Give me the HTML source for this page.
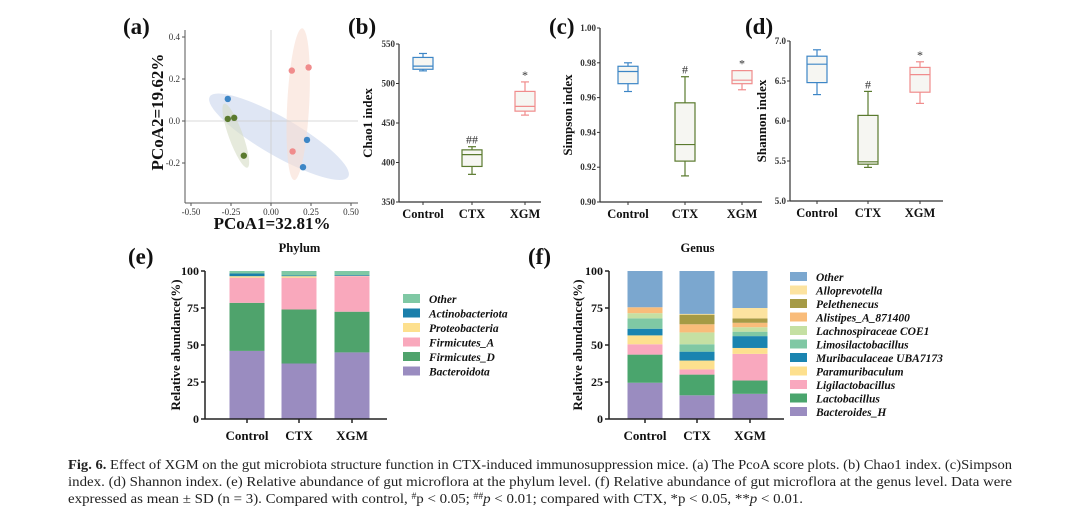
<!DOCTYPE html>
<html><head><meta charset="utf-8"><style>
html,body{margin:0;padding:0;background:#fff;width:1080px;height:526px;overflow:hidden}
svg{display:block;font-family:"Liberation Serif",serif}
.tk{font-size:9px;fill:#333}
.pl{font-size:23px;font-weight:bold;fill:#111}
.ttl{font-weight:bold;fill:#111}
.lg{font-size:11.5px;font-weight:bold;font-style:italic;fill:#111}
.cap{font-size:14px;fill:#222}
</style></head><body>
<svg id="fig" width="1080" height="526" viewBox="0 0 1080 526">
<text class="pl" x="123" y="34">(a)</text>
<text class="pl" x="348" y="34">(b)</text>
<text class="pl" x="549" y="34">(c)</text>
<text class="pl" x="745" y="34">(d)</text>
<text class="pl" x="128" y="264">(e)</text>
<text class="pl" x="528" y="264">(f)</text>
<g id="ga"></g>
<g id="gb"></g>
<g id="gc"></g>
<g id="gd"></g>
<g id="ge"></g>
<g id="gf"></g>
<g>
<text class="cap" x="68" y="469" textLength="944" lengthAdjust="spacingAndGlyphs"><tspan font-weight="bold">Fig. 6.</tspan> Effect of XGM on the gut microbiota structure function in CTX-induced immunosuppression mice. (a) The PcoA score plots. (b) Chao1 index. (c)Simpson</text>
<text class="cap" x="68" y="486" textLength="944" lengthAdjust="spacingAndGlyphs">index. (d) Shannon index. (e) Relative abundance of gut microflora at the phylum level. (f) Relative abundance of gut microflora at the genus level. Data were</text>
<text class="cap" x="68" y="503" textLength="735" lengthAdjust="spacingAndGlyphs">expressed as mean ± SD (n = 3). Compared with control, <tspan dy="-4" font-size="9">#</tspan><tspan dy="4">p &lt; 0.05; </tspan><tspan dy="-4" font-size="9">##</tspan><tspan dy="4" font-style="italic">p</tspan> &lt; 0.01; compared with CTX, *p &lt; 0.05, **<tspan font-style="italic">p</tspan> &lt; 0.01.</text>
</g>
</svg>
<script>
// ---- PCoA data ----
const pcoaGroups = ['Control','CTX','XGM'];
const pcoaX = [[-0.27,0.225,0.20],[-0.27,-0.23,-0.17],[0.13,0.235,0.135]];
const pcoaY = [[0.105,-0.09,-0.22],[0.01,0.015,-0.165],[0.24,0.255,-0.145]];
const pcoaTicksX = [-0.5,-0.25,0,0.25,0.5];
const pcoaTickLabelsX = ['-0.50','-0.25','0.00','0.25','0.50'];
const pcoaTicksY = [-0.2,0,0.2,0.4];
const pcoaTickLabelsY = ['-0.2','0.0','0.2','0.4'];
// ---- box plot data: [min, q1, median, q3, max] ----
const boxGroups = ['Control','CTX','XGM'];
const chao1 = [[516,518,522,533,538],[385,395,410,416,420],[460,465,471,490,502]];
const chao1Ticks = [350,400,450,500,550];
const chao1Marks = ['','##','*'];
const simpson = [[0.9635,0.968,0.975,0.978,0.980],[0.915,0.9235,0.933,0.957,0.972],[0.9645,0.968,0.970,0.9755,0.9755]];
const simpsonTicks = [0.90,0.92,0.94,0.96,0.98,1.00];
const simpsonMarks = ['','#','*'];
const shannon = [[6.33,6.48,6.71,6.81,6.89],[5.42,5.46,5.49,6.07,6.37],[6.22,6.36,6.58,6.67,6.74]];
const shannonTicks = [5.0,5.5,6.0,6.5,7.0];
const shannonMarks = ['','#','*'];
// ---- phylum data (bottom-up) ----
const phylumNames = ['Bacteroidota','Firmicutes_D','Firmicutes_A','Proteobacteria','Actinobacteriota','Other'];
const phylumControl = [46,32.5,17,1,1.8,1.7];
const phylumCTX = [37.5,36.5,21.5,1,0.5,3];
const phylumXGM = [45,27.5,24,0.3,0.5,2.7];
// ---- genus data (bottom-up) ----
const genusNames = ['Bacteroides_H','Lactobacillus','Ligilactobacillus','Paramuribaculum','Muribaculaceae UBA7173','Limosilactobacillus','Lachnospiraceae COE1','Alistipes_A_871400','Pelethenecus','Alloprevotella','Other'];
const genusControl = [24.5,19,7,6,4.5,7,3.5,4,0,0,24.5];
const genusCTX = [16,14,3.5,6,6,5,8,5.5,6.5,0.5,29];
const genusXGM = [17,9,18,4,8,3,3,3,3,7,25];
const barTicks = [0,25,50,75,100];

const NS='http://www.w3.org/2000/svg';
function mk(parent,tag,attrs,text){const e=document.createElementNS(NS,tag);for(const k in attrs)e.setAttribute(k,attrs[k]);if(text!==undefined)e.textContent=text;parent.appendChild(e);return e;}
const groupColors=['#3d86c6','#5a7a2e','#f08c8c'];
const ellColors=['#c9d6ec','#d6dcc4','#f9ddd2'];

// ---- panel a ----
(function(){
 const g=document.getElementById('ga');
 const X=v=>271+v*160, Y=v=>121-v*210;
 const ells=[[0.05,-0.075,80,19,30],[-0.22,-0.07,34,7,70],[0.17,0.08,76,11,-87]];
 ells.forEach((e,i)=>{const el=mk(g,'ellipse',{cx:X(e[0]),cy:Y(e[1]),rx:e[2],ry:e[3],transform:`rotate(${e[4]} ${X(e[0])} ${Y(e[1])})`,fill:ellColors[i],opacity:0.6});
  
  });
 mk(g,'line',{x1:185,x2:358,y1:Y(0),y2:Y(0),stroke:'#ccc','stroke-width':0.8});
 mk(g,'line',{x1:X(0),x2:X(0),y1:30,y2:203,stroke:'#ccc','stroke-width':0.8});
 mk(g,'line',{x1:185,x2:358,y1:203,y2:203,stroke:'#555','stroke-width':1});
 mk(g,'line',{x1:185,x2:185,y1:30,y2:203,stroke:'#555','stroke-width':1});
 pcoaTicksX.forEach((t,i)=>{mk(g,'line',{x1:X(t),x2:X(t),y1:203,y2:206,stroke:'#555'});
  const tx=mk(g,'text',{class:'tk',x:X(t),y:215,'text-anchor':'middle'},pcoaTickLabelsX[i]);
  });
 pcoaTicksY.forEach((t,i)=>{mk(g,'line',{x1:182,x2:185,y1:Y(t),y2:Y(t),stroke:'#555'});
  const tx=mk(g,'text',{class:'tk',x:180,y:Y(t)+3,'text-anchor':'end'},pcoaTickLabelsY[i]);
  });
 pcoaX.forEach((xs,gi)=>xs.forEach((x,j)=>{const c=mk(g,'circle',{cx:X(x),cy:Y(pcoaY[gi][j]),r:3.2,fill:groupColors[gi]});
  }));
 const xt=mk(g,'text',{class:'ttl','font-size':17,x:272,y:229,'text-anchor':'middle'},'PCoA1=32.81%');
 
 const yt=mk(g,'text',{class:'ttl','font-size':17,transform:'translate(163 112) rotate(-90)','text-anchor':'middle'},'PCoA2=19.62%');
 
})();

// ---- box plots ----
function boxPlot(id,data,ticks,fmt,marks,ax,yBot,yTop,xEnd,cxs,title,titleX){
 const g=document.getElementById(id);
 const lo=ticks[0],hi=ticks[ticks.length-1];
 const Y=v=>yBot-(v-lo)/(hi-lo)*(yBot-yTop);
 mk(g,'line',{x1:ax,x2:xEnd,y1:yBot,y2:yBot,stroke:'#333','stroke-width':1.2});
 mk(g,'line',{x1:ax,x2:ax,y1:yTop,y2:yBot,stroke:'#333','stroke-width':1.2});
 ticks.forEach(t=>{mk(g,'line',{x1:ax-3,x2:ax,y1:Y(t),y2:Y(t),stroke:'#333'});
  const tx=mk(g,'text',{class:'tk','font-weight':'bold',x:ax-4,y:Y(t)+3,'text-anchor':'end'},fmt(t));
  });
 data.forEach((d,i)=>{const cx=cxs[i],w=10,col=groupColors[i];
  const bg=mk(g,'g',{});
  
  
  mk(g,'line',{x1:cx,x2:cx,y1:yBot,y2:yBot+3,stroke:'#333'});
  mk(bg,'line',{x1:cx,x2:cx,y1:Y(d[0]),y2:Y(d[4]),stroke:col,'stroke-width':1.2});
  mk(bg,'line',{x1:cx-4,x2:cx+4,y1:Y(d[0]),y2:Y(d[0]),stroke:col,'stroke-width':1.2});
  mk(bg,'line',{x1:cx-4,x2:cx+4,y1:Y(d[4]),y2:Y(d[4]),stroke:col,'stroke-width':1.2});
  mk(bg,'rect',{x:cx-w,y:Y(d[3]),width:2*w,height:Y(d[1])-Y(d[3]),fill:'#f6f6f2',stroke:col,'stroke-width':1.2});
  mk(bg,'line',{x1:cx-w,x2:cx+w,y1:Y(d[2]),y2:Y(d[2]),stroke:col,'stroke-width':1.2});
  if(marks[i]){const m=mk(g,'text',{x:cx,y:Y(d[4])-3,'text-anchor':'middle','font-size':12,fill:'#333'},marks[i]);
   }
  const cl=mk(g,'text',{class:'ttl','font-size':12.5,x:cx,y:yBot+16,'text-anchor':'middle'},boxGroups[i]);
  });
 const yt=mk(g,'text',{class:'ttl','font-size':13,transform:`translate(${titleX} ${(yBot+yTop)/2}) rotate(-90)`,'text-anchor':'middle'},title);
 
}
boxPlot('gb',chao1,chao1Ticks,t=>String(t),chao1Marks,399,202,44,541,[423,472,525],'Chao1 index',372);
boxPlot('gc',simpson,simpsonTicks,t=>t.toFixed(2),simpsonMarks,600,202,28,762,[628,685,742],'Simpson index',572);
boxPlot('gd',shannon,shannonTicks,t=>t.toFixed(1),shannonMarks,790,201,41,943,[817,868,920],'Shannon index',766);

// ---- stacked bars ----
function stacked(id,names,series,colors,ax,xEnd,cxs,title,titleX,legX,legY0,legDy,legFont){
 const g=document.getElementById(id);
 const yBot=419,yTop=271,Y=v=>yBot-v/100*(yBot-yTop);
 series.forEach((s,i)=>{let acc=0;const cx=cxs[i];
  s.forEach((v,k)=>{const r=mk(g,'rect',{x:cx-17.5,y:Y(acc+v),width:35,height:Y(acc)-Y(acc+v),fill:colors[k]});
   
   acc+=v;});
  mk(g,'line',{x1:cx,x2:cx,y1:yBot,y2:yBot+4,stroke:'#222','stroke-width':1.5});
  const cl=mk(g,'text',{class:'ttl','font-size':13,x:cx,y:yBot+21,'text-anchor':'middle'},boxGroups[i]);
  });
 mk(g,'line',{x1:ax,x2:xEnd,y1:yBot,y2:yBot,stroke:'#222','stroke-width':1.5});
 mk(g,'line',{x1:ax,x2:ax,y1:yTop,y2:yBot,stroke:'#222','stroke-width':1.5});
 barTicks.forEach(t=>{mk(g,'line',{x1:ax-4,x2:ax,y1:Y(t),y2:Y(t),stroke:'#222','stroke-width':1.5});
  const tx=mk(g,'text',{class:'ttl','font-size':12,x:ax-6,y:Y(t)+4,'text-anchor':'end'},String(t));
  });
 const tt=mk(g,'text',{class:'ttl','font-size':12.5,x:(cxs[0]+cxs[2])/2,y:252,'text-anchor':'middle'},title);
 
 const yt=mk(g,'text',{class:'ttl','font-size':13,transform:`translate(${titleX} 345) rotate(-90)`,'text-anchor':'middle'},'Relative abundance(%)');
 
 for(let k=names.length-1,row=0;k>=0;k--,row++){const y=legY0+row*legDy;
  const sw=mk(g,'rect',{x:legX,y:y-5,width:17,height:9,fill:colors[k]});
  
  const t=mk(g,'text',{class:'lg','font-size':legFont,x:legX+26,y:y+4},names[k]);
  }
}
stacked('ge',phylumNames,[phylumControl,phylumCTX,phylumXGM],['#9a8cc0','#4fa36c','#f9a8bc','#fde08e','#1a7fab','#7fc8a4'],205,387,[247,299,352],'Phylum',180,403,299,14.5,11.5);
stacked('gf',genusNames,[genusControl,genusCTX,genusXGM],['#9a8cc0','#4aa56d','#f9a8be','#fde08e','#1a84b0','#7fc8a4','#c5e0a3','#f9bc7a','#a59a45','#fce3a0','#7ba7cf'],609,784,[645,697,750],'Genus',582,790,277,13.5,11.5);
</script>
</body></html>
